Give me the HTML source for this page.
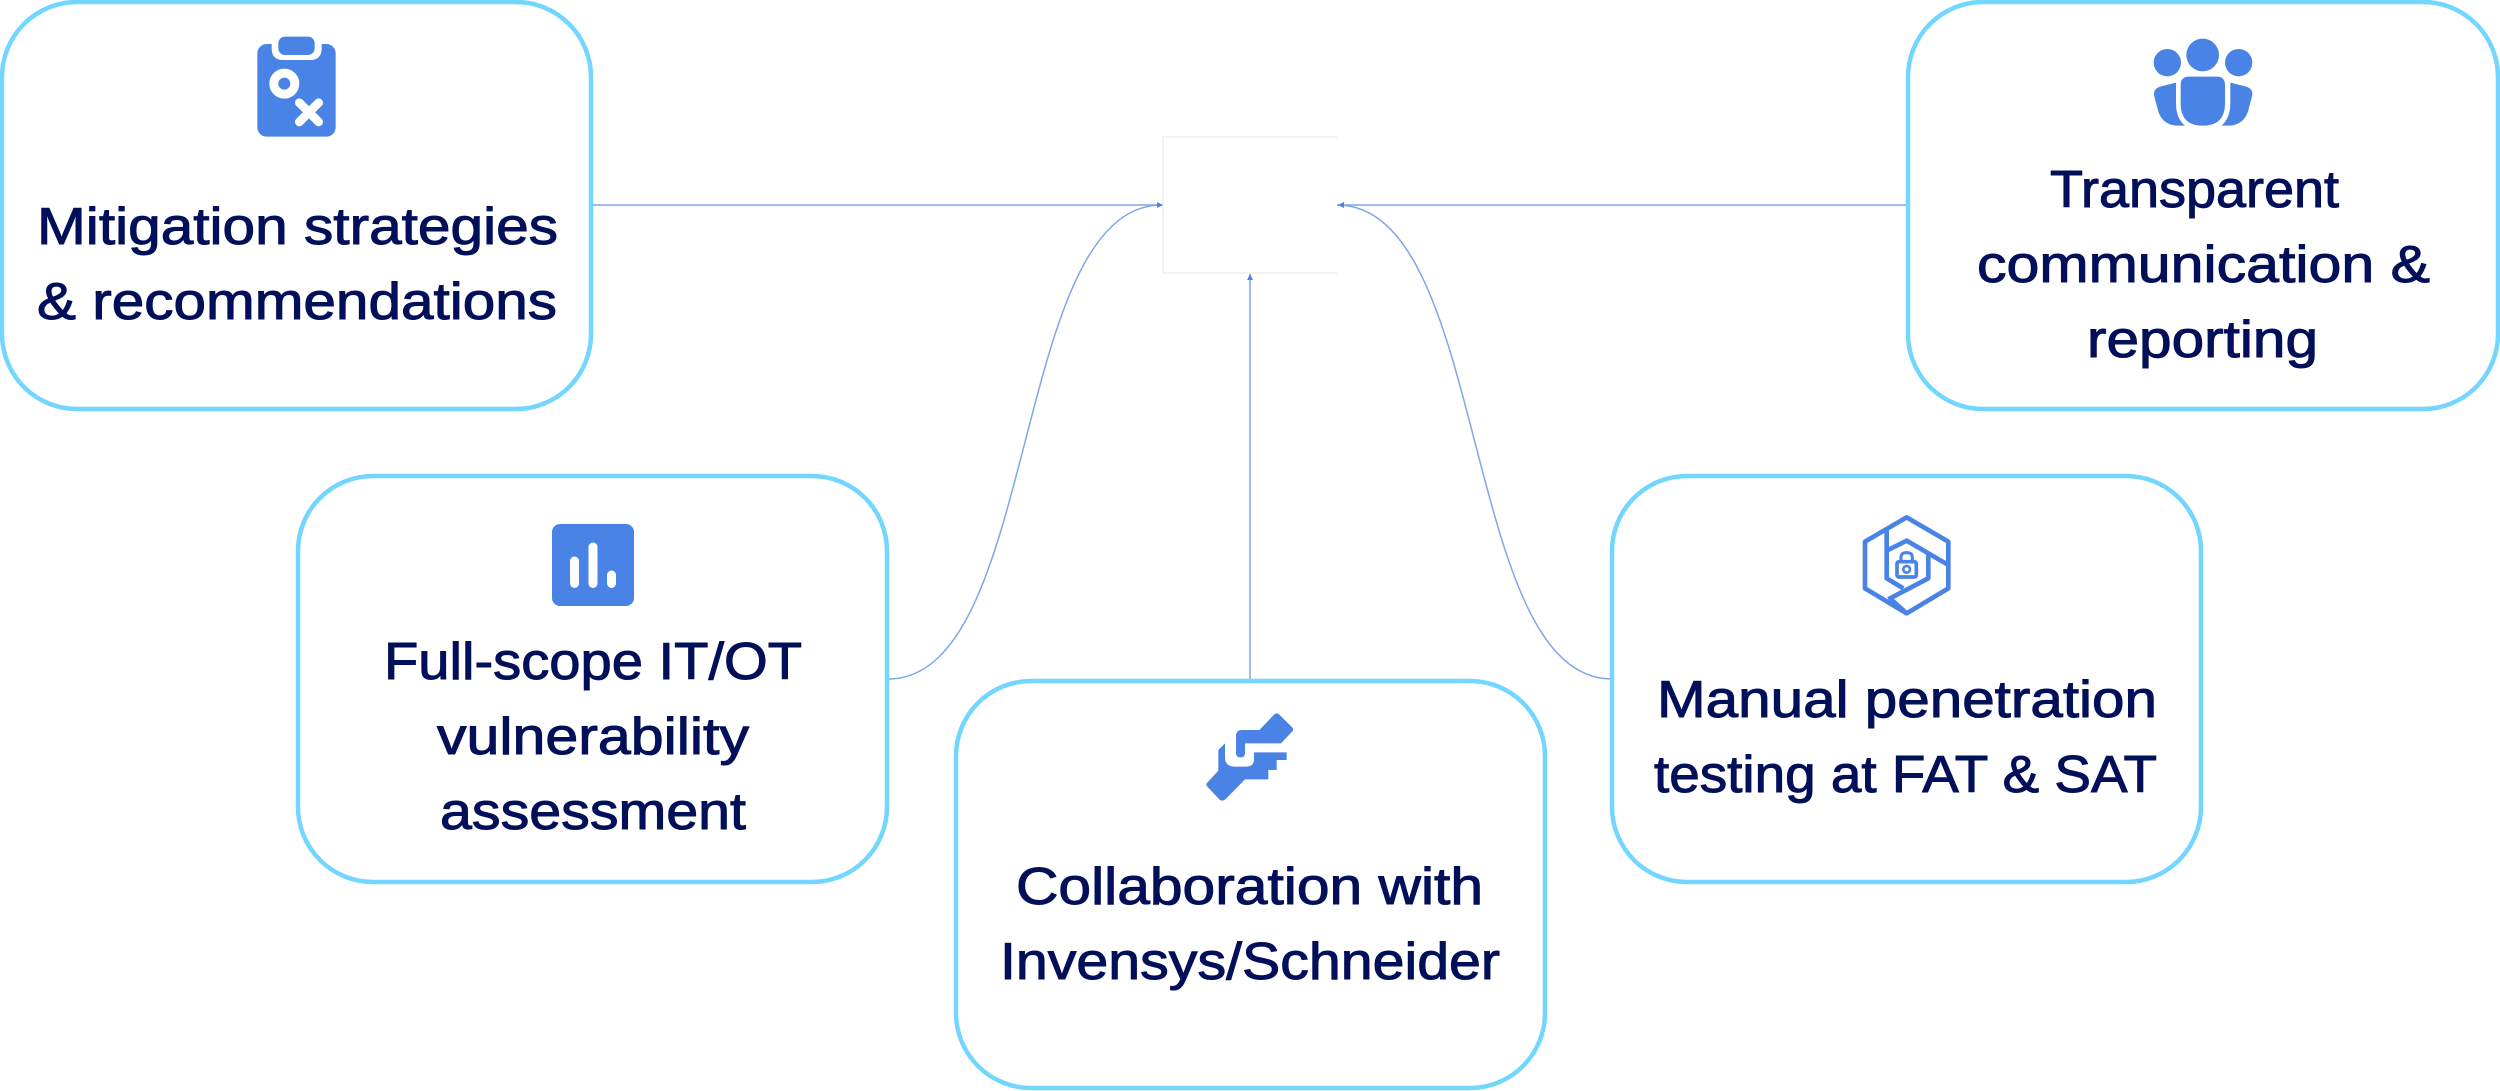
<!DOCTYPE html>
<html><head><meta charset="utf-8"><title>Diagram</title>
<style>
html,body{margin:0;padding:0;background:#fff;width:2500px;height:1091px;overflow:hidden}
svg{display:block}
text{font-family:"Liberation Sans",sans-serif;font-size:52px;fill:#020f59;stroke:#020f59;stroke-width:1px}
.b{fill:#fff;stroke:#73d6ff;stroke-width:4.5}
.l{fill:none;stroke:#7ea6ea;stroke-width:1.5}
.i{fill:#4a83e6}
.w{fill:none;stroke:#fff;stroke-linecap:round}
</style></head><body>
<svg xmlns="http://www.w3.org/2000/svg" width="2500" height="1091" viewBox="0 0 2500 1091">
<path d="M1337 137H1163V273H1337" fill="#fff" stroke="#eee" stroke-width="1.5"/>
<path class="l" d="M591 205H1162M1337 205H1908M1250 274V681"/>
<path class="l" d="M888 679C1040 679 1010 205 1162 205"/>
<path class="l" d="M1612 679C1460 679 1490 205 1337 205"/>
<path class="i" d="M1163 205l-6-3v6zM1338 205l6-3v6zM1250 274l-3 6h6z"/>

<rect class="b" x="2" y="2" width="589" height="407" rx="75"/>
<rect class="b" x="1908" y="2" width="590" height="407" rx="75"/>
<rect class="b" x="298" y="476" width="589" height="406" rx="75"/>
<rect class="b" x="956" y="681" width="589" height="407" rx="75"/>
<rect class="b" x="1612" y="476" width="589" height="406" rx="75"/>

<text x="37" y="244" textLength="521" lengthAdjust="spacingAndGlyphs">Mitigation strategies</text>
<text x="37" y="319" textLength="520" lengthAdjust="spacingAndGlyphs">&amp; recommendations</text>
<text x="2050" y="207" textLength="289" lengthAdjust="spacingAndGlyphs">Transparent</text>
<text x="1977" y="282" textLength="453" lengthAdjust="spacingAndGlyphs">communication &amp;</text>
<text x="2087" y="357" textLength="231" lengthAdjust="spacingAndGlyphs">reporting</text>
<text x="384" y="679" textLength="418" lengthAdjust="spacingAndGlyphs">Full-scope IT/OT</text>
<text x="437" y="754" textLength="312" lengthAdjust="spacingAndGlyphs">vulnerability</text>
<text x="440" y="829" textLength="306" lengthAdjust="spacingAndGlyphs">assessment</text>
<text x="1016" y="904" textLength="467" lengthAdjust="spacingAndGlyphs">Collaboration with</text>
<text x="1000" y="979" textLength="500" lengthAdjust="spacingAndGlyphs">Invensys/Schneider</text>
<text x="1657" y="717" textLength="500" lengthAdjust="spacingAndGlyphs">Manual penetration</text>
<text x="1654" y="792" textLength="503" lengthAdjust="spacingAndGlyphs">testing at FAT &amp; SAT</text>

<!-- clipboard -->
<g transform="translate(240 25) scale(.3333)">
<rect class="i" x="52" y="57" width="235" height="278" rx="28"/>
<path fill="#fff" d="M95 50V70Q95 105 130 105H210Q245 105 245 70V50Z"/>
<rect class="i" x="115" y="35" width="109" height="55" rx="20"/>
<circle cx="133" cy="176" r="31.500" fill="none" stroke="#fff" stroke-width="27"/>
<path class="w" stroke-width="26" d="M178 233L236 291M236 233L178 291"/>
</g>
<!-- people -->
<g class="i" transform="translate(2140 25) scale(.3333)">
<circle cx="188" cy="90" r="49"/>
<circle cx="82" cy="113" r="41"/>
<circle cx="296" cy="113" r="41"/>
<path d="M122 180Q122 155 147 155H230Q255 155 255 180V235Q255 302 188 302Q122 302 122 235Z"/>
<path d="M108 173V235Q108 280 135 302H115Q70 302 55 260L42 210Q40 192 60 185Z"/>
<path d="M271 173V235Q271 280 244 302H264Q309 302 324 260L337 210Q339 192 319 185Z"/>
</g>
<!-- bars -->
<g>
<rect class="i" x="552" y="524" width="82" height="82" rx="8"/>
<path class="w" stroke-width="9" d="M574.500 561V583.500M593 547V583.500M611.500 575V583.500"/>
</g>
<!-- handshake -->
<g transform="translate(1180 700) scale(.3333)">
<path class="i" d="M284 42Q290 38 296 42L337 82Q342 88 337 94L303 130H195V160Q195 172 182 172Q168 172 168 160V108Q168 90 186 90H238Z"/>
<path class="i" d="M135 130V172Q135 200 165 200H198Q222 200 222 178V157H320V180H290V210H265V238H195L136 298Q126 306 118 298L82 260Q76 254 82 248L115 212V150Z"/>
</g>
<!-- hex lock -->
<g transform="translate(1840 500) scale(.3333)" fill="none" stroke="#4a83e6" stroke-width="14" stroke-linejoin="round">
<path d="M200 52L325 125V265L200 340L75 265V125Z"/>
<path d="M140 90V235L190 265M140 152L200 122L325 195M265 160V235L145 298"/>
<path d="M155 300L200 340" />
<rect x="171" y="185" width="58" height="46" rx="6" stroke-width="11"/>
<path d="M183 185V172Q183 158 200 158Q217 158 217 172V185" stroke-width="9"/>
<circle cx="200" cy="208" r="10" stroke-width="8"/>
</g>
</svg>
</body></html>
